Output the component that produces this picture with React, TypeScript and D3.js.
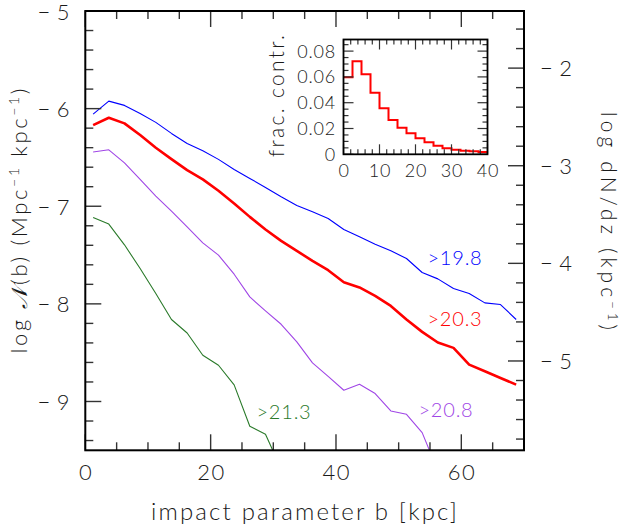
import React from "react";
import * as d3 from "d3";

const impactB = [1.25, 3.75, 6.25, 8.75, 11.25, 13.75, 16.25, 18.75, 21.25, 23.75, 26.25, 28.75, 31.25, 33.75, 36.25, 38.75, 41.25, 43.75, 46.25, 48.75, 51.25, 53.75, 56.25, 58.75, 61.25, 63.75, 66.25, 68.75];
const logN198 = [-6.056, -5.923, -5.967, -6.049, -6.141, -6.254, -6.357, -6.432, -6.52, -6.623, -6.715, -6.807, -6.903, -6.992, -7.057, -7.125, -7.238, -7.313, -7.389, -7.457, -7.535, -7.679, -7.744, -7.843, -7.894, -7.99, -8.007, -8.16];
const logN203 = [-6.169, -6.094, -6.151, -6.271, -6.401, -6.517, -6.63, -6.725, -6.842, -6.971, -7.109, -7.238, -7.355, -7.457, -7.56, -7.655, -7.778, -7.832, -7.918, -8.021, -8.16, -8.287, -8.396, -8.451, -8.622, -8.69, -8.759, -8.827];
const logN208 = [-6.445, -6.422, -6.555, -6.726, -6.896, -7.05, -7.211, -7.375, -7.501, -7.696, -7.929, -8.072, -8.209, -8.39, -8.605, -8.742, -8.885, -8.824, -8.919, -9.097, -9.131, -9.319, -9.71];
const logN213 = [-7.115, -7.183, -7.395, -7.638, -7.894, -8.16, -8.298, -8.526, -8.629, -8.83, -9.254, -9.336, -9.69];

const seriesLabels = [">19.8", ">20.3", ">20.8", ">21.3"];
const seriesColors = ["#0000ff", "#ff0000", "#a046e6", "#2a7a2a"];

const histEdges = [0, 2.5, 5, 7.5, 10, 12.5, 15, 17.5, 20, 22.5, 25, 27.5, 30, 32.5, 35, 37.5, 40];
const histFrac = [0.0597, 0.0721, 0.062, 0.0478, 0.0357, 0.0266, 0.0206, 0.0163, 0.0124, 0.0093, 0.0067, 0.0047, 0.0036, 0.0028, 0.0023, 0.0018];

const xTicks = [0, 20, 40, 60];
const yTicks = [-9, -8, -7, -6, -5];
const rightTicks = [-5, -4, -3, -2];
const insetXTicks = [0, 10, 20, 30, 40];
const insetYTicks = [0, 0.02, 0.04, 0.06, 0.08];
const insetYLabels = ["0", "0.02", "0.04", "0.06", "0.08"];

const RIGHT_OFFSET = 3.585;
const FONT = "Lato, 'Open Sans', 'DejaVu Sans', sans-serif";
const TXT = "#1a1a1a";

export default function App() {
  const x = d3.scaleLinear().domain([0, 70]).range([85.3, 524]);
  const y = d3.scaleLinear().domain([-9.5, -5]).range([450.3, 11]);
  const yr = d3.scaleLinear().domain([-9.5 + RIGHT_OFFSET, -5 + RIGHT_OFFSET]).range([450.3, 11]);

  const ix = d3.scaleLinear().domain([0, 40]).range([343.5, 487.5]);
  const iy = d3.scaleLinear().domain([0, 0.089]).range([154.3, 39.5]);

  const line = d3
    .line<[number, number]>()
    .x((d) => x(d[0]))
    .y((d) => y(d[1]));

  const series = [logN198, logN203, logN208, logN213];
  const widths = [1.1, 2.6, 1.1, 1.1];

  const [x0, x1] = x.range();
  const [y0, y1] = [y(-5), y(-9.5)];

  const xMinor = d3.range(0, 70.001, 5).filter((v) => v % 20 !== 0);
  const yMinor = d3.range(-9.4, -5.0, 0.2).filter((v) => Math.abs(v - Math.round(v)) > 0.01);
  const rMinorAll = d3.range(-5.8, -1.5, 0.2).filter((v) => Math.abs(v - Math.round(v)) > 0.01);
  const rMinor = rMinorAll.filter((v) => v > -9.5 + RIGHT_OFFSET && v < -5 + RIGHT_OFFSET);

  const ixMinor = d3.range(0, 40.001, 2).filter((v) => v % 10 !== 0);
  const iyMinor = d3.range(0.005, 0.089, 0.005).filter((v) => Math.abs(v / 0.02 - Math.round(v / 0.02)) > 0.01);

  const tickColor = "#333";
  const MJ = 16;
  const MN = 8;

  let hp = "";
  histFrac.forEach((f, i) => {
    const xa = ix(histEdges[i]);
    const xb = ix(histEdges[i + 1]);
    const yy = iy(f);
    hp += (i === 0 ? `M${xa},${yy}` : `V${yy}`) + `H${xb}`;
  });

  const labelPos: [number, number][] = [
    [455, 258],
    [455, 319],
    [446, 410],
    [284, 412],
  ];

  return (
    <svg width={621} height={531} style={{ position: "absolute", left: 0, top: 0, background: "#fff" }} fontFamily={FONT}>
      <defs>
        <clipPath id="plotclip">
          <rect x={x0} y={y0} width={x1 - x0} height={y1 - y0} />
        </clipPath>
      </defs>

      <g clipPath="url(#plotclip)">
        {series.map((s, k) => (
          <path
            key={k}
            d={line(s.map((v, i) => [impactB[i], v] as [number, number])) || ""}
            fill="none"
            stroke={seriesColors[k]}
            strokeWidth={widths[k]}
            strokeLinejoin="round"
          />
        ))}
      </g>

      <g stroke={tickColor} strokeWidth={1.4}>
        {xTicks.map((v) => (
          <g key={"xm" + v}>
            <line x1={x(v)} x2={x(v)} y1={y1} y2={y1 - MJ} />
            <line x1={x(v)} x2={x(v)} y1={y0} y2={y0 + MJ} />
          </g>
        ))}
        {xMinor.map((v) => (
          <g key={"xn" + v}>
            <line x1={x(v)} x2={x(v)} y1={y1} y2={y1 - MN} />
            <line x1={x(v)} x2={x(v)} y1={y0} y2={y0 + MN} />
          </g>
        ))}
        {yTicks.map((v) => (
          <line key={"ym" + v} x1={x0} x2={x0 + MJ} y1={y(v)} y2={y(v)} />
        ))}
        {yMinor.map((v) => (
          <line key={"yn" + v} x1={x0} x2={x0 + MN} y1={y(v)} y2={y(v)} />
        ))}
        {rightTicks.map((v) => (
          <line key={"rm" + v} x1={x1} x2={x1 - MJ} y1={yr(v)} y2={yr(v)} />
        ))}
        {rMinor.map((v) => (
          <line key={"rn" + v} x1={x1} x2={x1 - MN} y1={yr(v)} y2={yr(v)} />
        ))}
      </g>

      <rect x={x0} y={y0} width={x1 - x0} height={y1 - y0} fill="none" stroke="#000" strokeWidth={2} />

      <g fill={TXT} fontSize={22} fontWeight={300} letterSpacing={1.5}>
        {xTicks.map((v) => (
          <text key={"xl" + v} x={x(v) + 0.75} y={480} textAnchor="middle">
            {String(v)}
          </text>
        ))}
        {yTicks.map((v) => (
          <text key={"yl" + v} x={71} y={y(v) + 8.5} textAnchor="end">
            <tspan>{"\u2212"}</tspan>
            <tspan dx={5}>{String(Math.abs(v))}</tspan>
          </text>
        ))}
        {rightTicks.map((v) => (
          <text key={"rl" + v} x={540} y={yr(v) + 8} textAnchor="start">
            <tspan>{"\u2212"}</tspan>
            <tspan dx={5}>{String(Math.abs(v))}</tspan>
          </text>
        ))}
      </g>

      <text x={304} y={520} textAnchor="middle" fontSize={24} fontWeight={300} fill={TXT} textLength={306} lengthAdjust="spacing">
        impact parameter b [kpc]
      </text>
      <text
        transform="translate(27,221) rotate(-90)"
        textAnchor="middle"
        fontSize={22}
        fontWeight={300}
        fill={TXT}
        textLength={265}
        lengthAdjust="spacing"
      >
        <tspan>log </tspan>
        <tspan fontStyle="italic" fontFamily="'DejaVu Serif', serif">𝒩</tspan>
        <tspan>(b)  (Mpc</tspan>
        <tspan fontSize={14} dy={-8}>−1</tspan>
        <tspan dy={8}> kpc</tspan>
        <tspan fontSize={14} dy={-8}>−1</tspan>
        <tspan dy={8}>)</tspan>
      </text>
      <text
        transform="translate(601,221) rotate(90)"
        textAnchor="middle"
        fontSize={21}
        fontWeight={300}
        fill={TXT}
        textLength={218}
        lengthAdjust="spacing"
      >
        <tspan>log dN/dz  (kpc</tspan>
        <tspan fontSize={13} dy={-7}>−1</tspan>
        <tspan dy={7}>)</tspan>
      </text>

      <g fontSize={20} fontWeight={300} letterSpacing={0.8}>
        {seriesLabels.map((t, k) => (
          <text key={t} x={labelPos[k][0]} y={labelPos[k][1] + 7} textAnchor="middle" fill={seriesColors[k]}>
            {t}
          </text>
        ))}
      </g>

      <rect x={ix(0)} y={iy(0.089)} width={ix(40) - ix(0)} height={iy(0) - iy(0.089)} fill="#fff" stroke="none" />
      <path d={hp} fill="none" stroke="#ff0000" strokeWidth={2} />
      <g stroke={tickColor} strokeWidth={1.2}>
        {insetXTicks.map((v) => (
          <g key={"ixm" + v}>
            <line x1={ix(v)} x2={ix(v)} y1={iy(0)} y2={iy(0) - 10} />
            <line x1={ix(v)} x2={ix(v)} y1={iy(0.089)} y2={iy(0.089) + 10} />
          </g>
        ))}
        {ixMinor.map((v) => (
          <g key={"ixn" + v}>
            <line x1={ix(v)} x2={ix(v)} y1={iy(0)} y2={iy(0) - 5} />
            <line x1={ix(v)} x2={ix(v)} y1={iy(0.089)} y2={iy(0.089) + 5} />
          </g>
        ))}
        {insetYTicks.map((v) => (
          <g key={"iym" + v}>
            <line x1={ix(0)} x2={ix(0) + 10} y1={iy(v)} y2={iy(v)} />
            <line x1={ix(40)} x2={ix(40) - 10} y1={iy(v)} y2={iy(v)} />
          </g>
        ))}
        {iyMinor.map((v) => (
          <g key={"iyn" + v}>
            <line x1={ix(0)} x2={ix(0) + 5} y1={iy(v)} y2={iy(v)} />
            <line x1={ix(40)} x2={ix(40) - 5} y1={iy(v)} y2={iy(v)} />
          </g>
        ))}
      </g>
      <rect x={ix(0)} y={iy(0.089)} width={ix(40) - ix(0)} height={iy(0) - iy(0.089)} fill="none" stroke="#000" strokeWidth={1.8} />
      <g fill={TXT} fontSize={18} fontWeight={300} letterSpacing={0.8}>
        {insetXTicks.map((v) => (
          <text key={"ixl" + v} x={ix(v) + 0.5} y={177} textAnchor="middle">
            {String(v)}
          </text>
        ))}
        {insetYTicks.map((v, i) => (
          <text key={"iyl" + v} x={336} y={iy(v) + 6.5} textAnchor="end">
            {insetYLabels[i]}
          </text>
        ))}
      </g>
      <text
        transform="translate(284,96) rotate(-90)"
        textAnchor="middle"
        fontSize={21}
        fontWeight={300}
        fill={TXT}
        textLength={122}
        lengthAdjust="spacing"
      >
        frac. contr.
      </text>
    </svg>
  );
}
